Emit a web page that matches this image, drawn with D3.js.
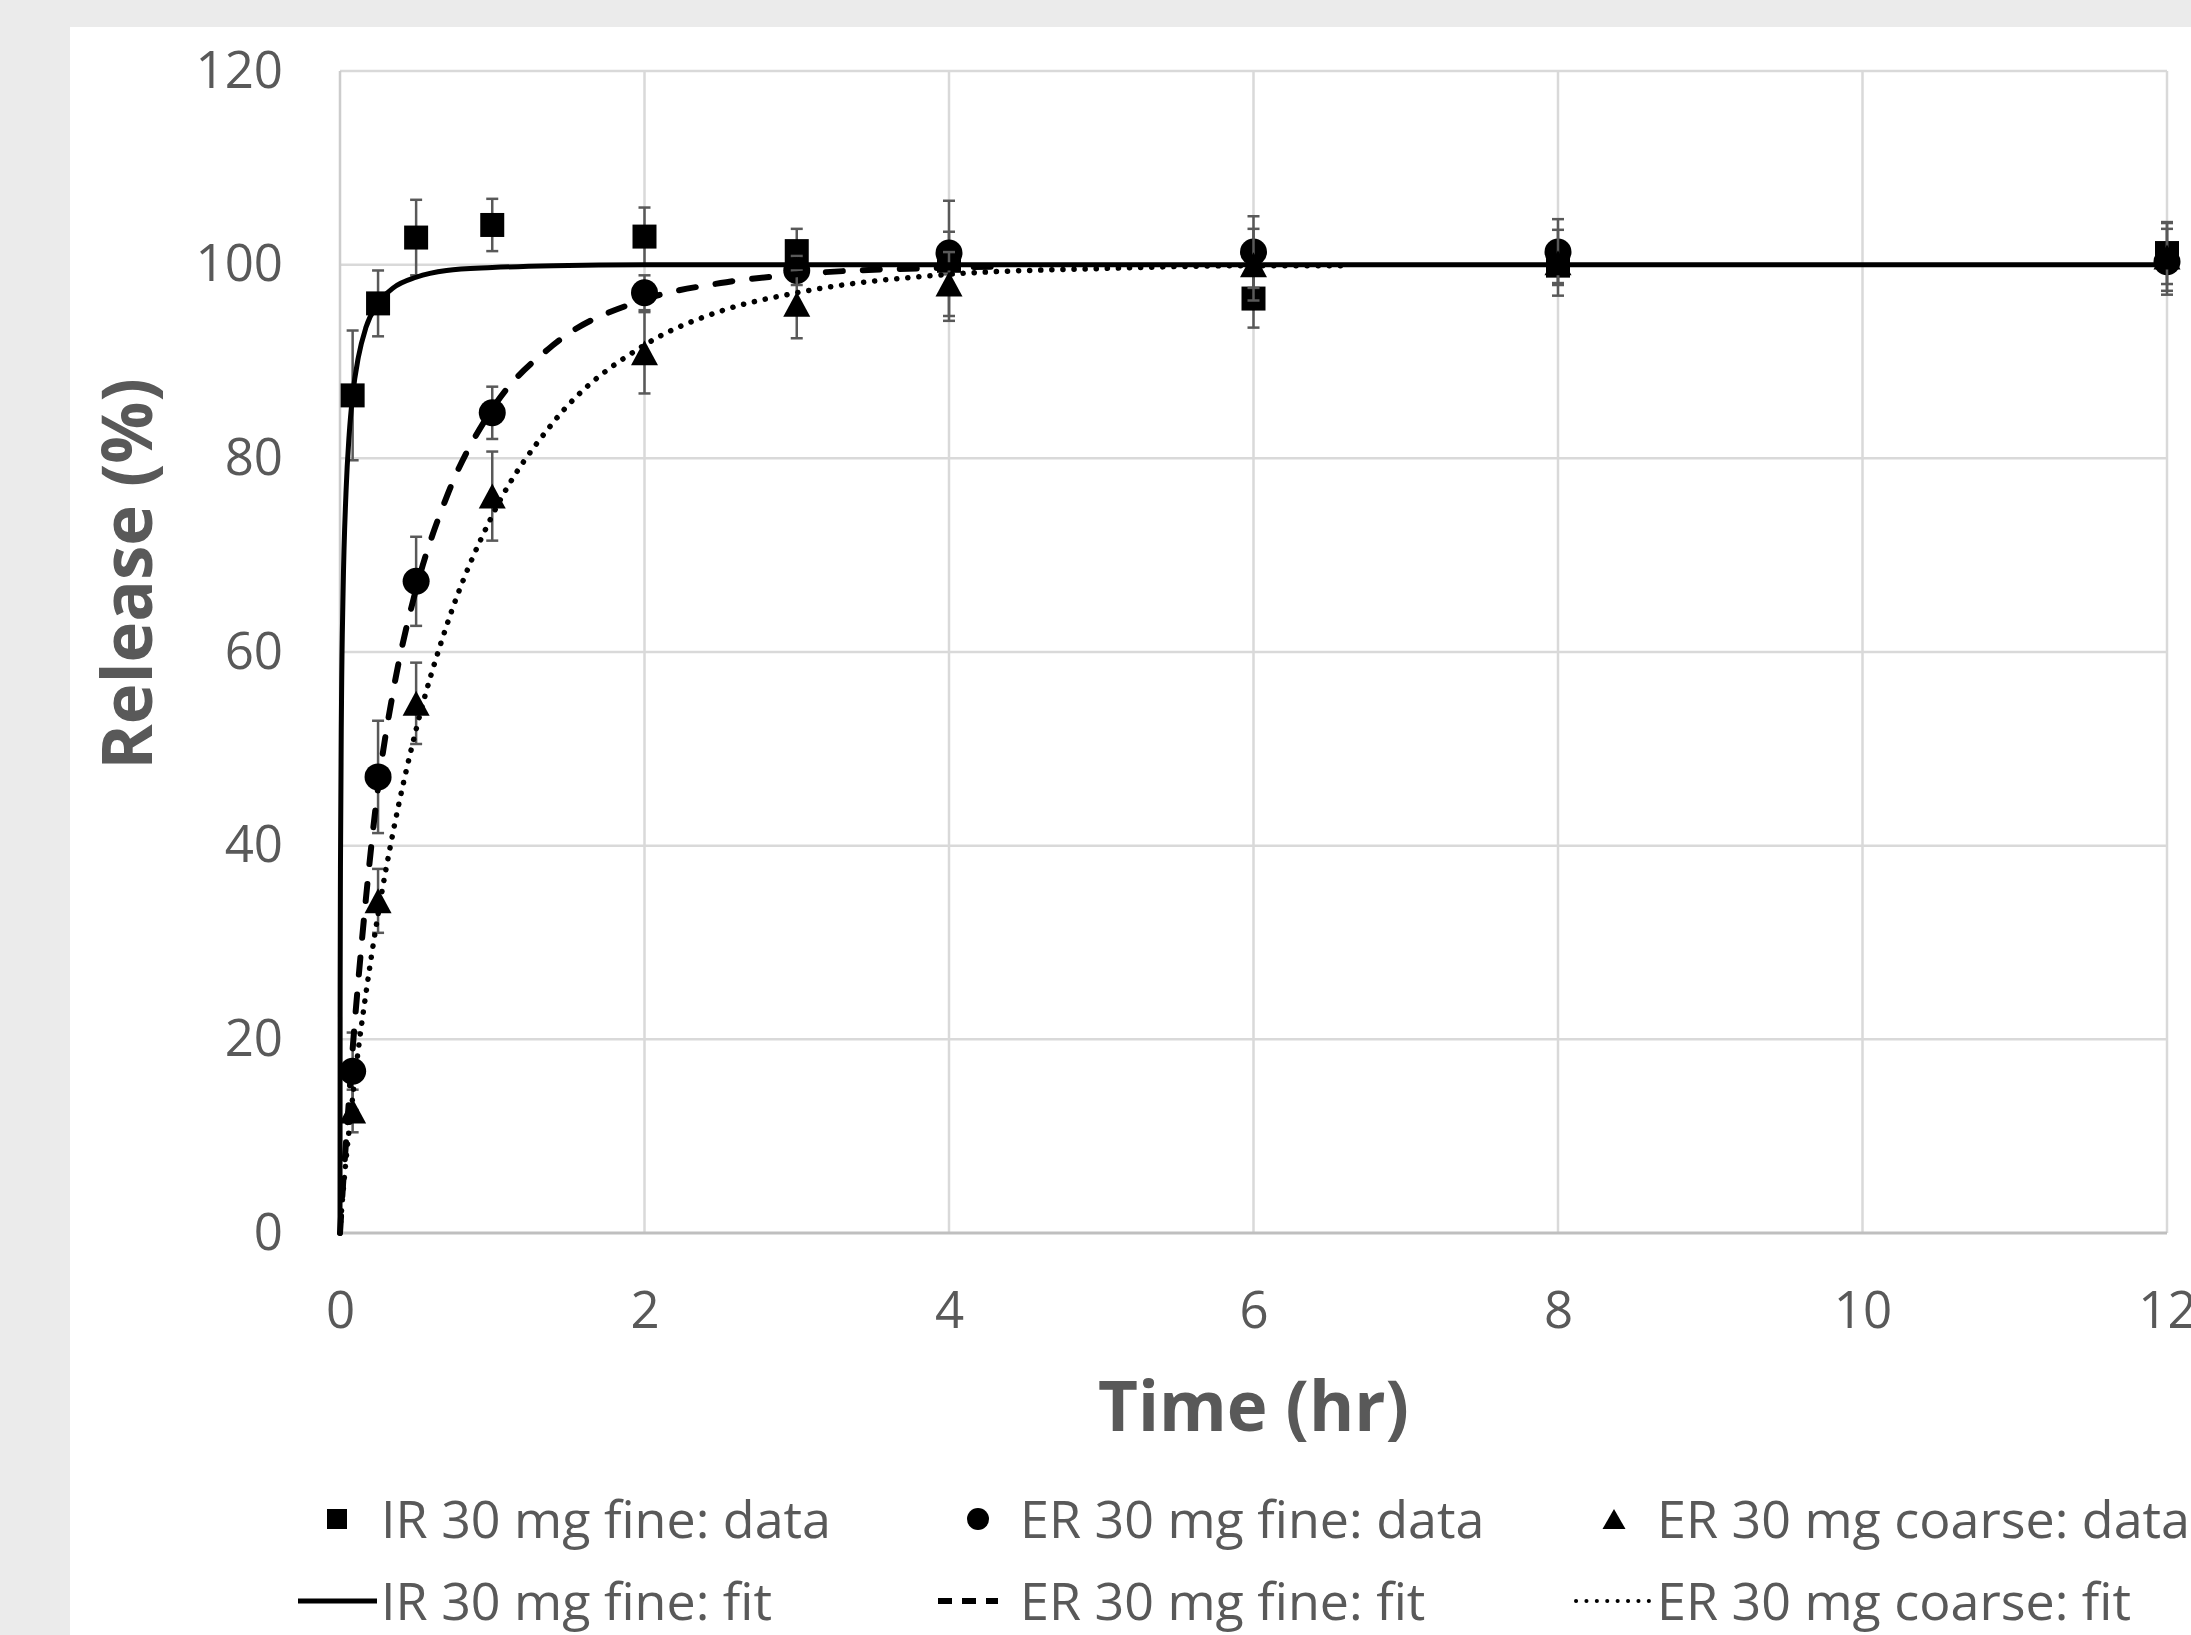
<!DOCTYPE html>
<html>
<head>
<meta charset="utf-8">
<script src="https://cdn.jsdelivr.net/npm/d3@7"></script>
<style>
  html, body { margin: 0; padding: 0; background: #ebebeb; }
  svg { display: block; }
  text { font-family: "Open Sans", "Noto Sans", sans-serif; fill: #595959; }
</style>
</head>
<body>
<svg id="chart" width="2191" height="1635"></svg>
<script>
// ---- Dissolution data (percent released vs. time in hours) ----
const sampleTimes = [0.083, 0.25, 0.5, 1, 2, 3, 4, 6, 8, 12];

const irFineData   = [86.5, 96.0, 102.8, 104.1, 102.9, 101.4, 100.4, 96.5, 99.9, 101.2];
const irFineErr    = [6.7, 3.4, 3.9, 2.7, 3.0, 2.3, 6.2, 3.0, 1.8, 3.2];

const erFineData   = [16.7, 47.1, 67.3, 84.7, 97.1, 99.4, 101.2, 101.3, 101.3, 100.3];
const erFineErr    = [4.0, 5.8, 4.6, 2.7, 1.8, 1.5, 2.2, 3.7, 3.4, 3.4];

const erCoarseData = [12.6, 34.3, 54.7, 76.1, 90.9, 95.9, 98.0, 100.0, 100.2, 100.8];
const erCoarseErr  = [2.2, 3.3, 4.2, 4.6, 4.2, 3.5, 3.3, 3.7, 3.4, 3.5];

// ---- Model fit curves ----
const irFitTimes = [0, 0.001, 0.003, 0.01, 0.02, 0.04, 0.06, 0.083, 0.12, 0.17, 0.25, 0.35, 0.5, 0.7, 1, 1.4, 2, 3, 4, 6, 8, 12];
const irFitVals  = [0, 25.5, 37.7, 55.0, 66.0, 76.7, 82.4, 86.5, 90.4, 93.5, 96.0, 97.6, 98.7, 99.4, 99.7, 99.9, 100, 100, 100, 100, 100, 100];

const erFineFitTimes = [0, 0.01, 0.02, 0.04, 0.06, 0.083, 0.12, 0.17, 0.25, 0.35, 0.5, 0.7, 1, 1.4, 2, 2.5, 3, 4, 4.3];
const erFineFitVals  = [0, 2.5, 5.0, 9.5, 14.0, 19.0, 26.0, 34.5, 46.0, 56.0, 66.5, 76.0, 85.1, 91.7, 96.4, 98.1, 99.0, 99.7, 99.8];

const erCoarseFitTimes = [0, 0.01, 0.02, 0.04, 0.06, 0.083, 0.12, 0.17, 0.25, 0.35, 0.5, 0.7, 1, 1.4, 2, 2.5, 3, 4, 5, 6, 6.6];
const erCoarseFitVals  = [0, 2.3, 4.2, 7.6, 10.7, 14.0, 18.9, 24.7, 32.9, 41.5, 52.0, 62.7, 74.1, 83.7, 91.7, 95.2, 97.1, 99.0, 99.6, 99.9, 99.9];

// ---- Axis ticks and labels ----
const xTicks = [0, 2, 4, 6, 8, 10, 12];
const yTicks = [0, 20, 40, 60, 80, 100, 120];
const xTitle = "Time (hr)";
const yTitle = "Release (%)";
const dataLabels = ["IR 30 mg fine: data", "ER 30 mg fine: data", "ER 30 mg coarse: data"];
const fitLabels  = ["IR 30 mg fine: fit", "ER 30 mg fine: fit", "ER 30 mg coarse: fit"];

// ---- Layout ----
const W = 2191, H = 1635;
const plot = { left: 340, right: 2167, top: 71, bottom: 1233 };
const svg = d3.select("#chart");

svg.append("rect").attr("width", W).attr("height", H).attr("fill", "#ebebeb");
svg.append("rect").attr("x", 70).attr("y", 27).attr("width", W - 70).attr("height", H - 27).attr("fill", "#ffffff");

const x = d3.scaleLinear().domain([0, 12]).range([plot.left, plot.right]);
const y = d3.scaleLinear().domain([0, 120]).range([plot.bottom, plot.top]);

// Gridlines
const grid = svg.append("g");
grid.selectAll("line.h").data(yTicks.filter(d => d > 0)).join("line")
  .attr("x1", plot.left).attr("x2", plot.right)
  .attr("y1", d => y(d)).attr("y2", d => y(d))
  .attr("stroke", "#d9d9d9").attr("stroke-width", 2.5);
grid.selectAll("line.v").data(xTicks.filter(d => d > 0)).join("line")
  .attr("x1", d => x(d)).attr("x2", d => x(d))
  .attr("y1", plot.top).attr("y2", plot.bottom)
  .attr("stroke", "#d9d9d9").attr("stroke-width", 2.5);

// Axis lines
svg.append("line").attr("x1", plot.left).attr("x2", plot.left)
  .attr("y1", plot.top).attr("y2", plot.bottom)
  .attr("stroke", "#cccccc").attr("stroke-width", 2.5);
svg.append("line").attr("x1", plot.left).attr("x2", plot.right)
  .attr("y1", plot.bottom).attr("y2", plot.bottom)
  .attr("stroke", "#bfbfbf").attr("stroke-width", 3);

// Tick labels via d3 axes (domain and tick marks hidden)
const yAxis = svg.append("g").attr("transform", `translate(${283},0)`)
  .call(d3.axisLeft(y).tickValues(yTicks).tickSize(0).tickPadding(0));
yAxis.select(".domain").remove();
yAxis.selectAll("text")
  .attr("font-size", 51).attr("font-family", "Open Sans, sans-serif")
  .attr("fill", "#595959").attr("dy", "16px").attr("text-anchor", "end");

const xAxis = svg.append("g").attr("transform", `translate(0,${1328})`)
  .call(d3.axisBottom(x).tickValues(xTicks).tickSize(0).tickPadding(0));
xAxis.select(".domain").remove();
xAxis.selectAll("text")
  .attr("font-size", 51).attr("font-family", "Open Sans, sans-serif")
  .attr("fill", "#595959").attr("dy", 0).attr("y", 0);

// Axis titles
svg.append("text").attr("x", (plot.left + plot.right) / 2).attr("y", 1431)
  .attr("text-anchor", "middle").attr("font-size", 69).attr("font-weight", 700)
  .text(xTitle);
svg.append("text").attr("transform", "translate(152,574) rotate(-90)")
  .attr("text-anchor", "middle").attr("font-size", 69).attr("font-weight", 700)
  .text(yTitle);

// ---- Marker shapes ----
const squarePath = d3.symbol().type(d3.symbolSquare).size(24 * 24)();
const circlePath = d3.symbol().type(d3.symbolCircle).size(Math.PI * 13.5 * 13.5)();
const trianglePath = (w, h) => `M0,${-h / 2}L${w / 2},${h / 2}L${-w / 2},${h / 2}Z`;

function drawSeries(values, errors, shape) {
  const pts = sampleTimes.map((t, i) => ({ t, v: values[i], e: errors[i] }));
  const g = svg.append("g");
  const eb = g.append("g").attr("stroke", "#595959").attr("stroke-width", 2.5);
  eb.selectAll("line.stem").data(pts).join("line")
    .attr("x1", d => x(d.t)).attr("x2", d => x(d.t))
    .attr("y1", d => y(d.v - d.e)).attr("y2", d => y(d.v + d.e));
  eb.selectAll("line.top").data(pts).join("line")
    .attr("x1", d => x(d.t) - 6).attr("x2", d => x(d.t) + 6)
    .attr("y1", d => y(d.v + d.e)).attr("y2", d => y(d.v + d.e));
  eb.selectAll("line.bot").data(pts).join("line")
    .attr("x1", d => x(d.t) - 6).attr("x2", d => x(d.t) + 6)
    .attr("y1", d => y(d.v - d.e)).attr("y2", d => y(d.v - d.e));
  g.selectAll("path").data(pts).join("path")
    .attr("d", shape)
    .attr("transform", d => `translate(${x(d.t)},${y(d.v)})`)
    .attr("fill", "#000");
}

drawSeries(irFineData, irFineErr, squarePath);
drawSeries(erFineData, erFineErr, circlePath);
drawSeries(erCoarseData, erCoarseErr, trianglePath(27, 25));

// ---- Fit curves ----
const line = d3.line().x(d => x(d[0])).y(d => y(d[1])).curve(d3.curveMonotoneX);
const zip = (a, b) => a.map((t, i) => [t, b[i]]);

svg.append("path").datum(zip(erCoarseFitTimes, erCoarseFitVals))
  .attr("d", line).attr("fill", "none").attr("stroke", "#000")
  .attr("stroke-width", 5.5).attr("stroke-linecap", "round").attr("stroke-dasharray", "0.1,11");
svg.append("path").datum(zip(erFineFitTimes, erFineFitVals))
  .attr("d", line).attr("fill", "none").attr("stroke", "#000")
  .attr("stroke-width", 6).attr("stroke-linecap", "round").attr("stroke-dasharray", "17,20");
svg.append("path").datum(zip(irFitTimes, irFitVals))
  .attr("d", line).attr("fill", "none").attr("stroke", "#000")
  .attr("stroke-width", 5);

// ---- Legend ----
const legend = svg.append("g");
const row1 = 1519, row2 = 1601;
const colMark = [337, 978, 1614];
const colText = [381, 1020, 1657];

legend.append("path").attr("d", d3.symbol().type(d3.symbolSquare).size(20 * 20)())
  .attr("transform", `translate(${colMark[0]},${row1})`).attr("fill", "#000");
legend.append("path").attr("d", d3.symbol().type(d3.symbolCircle).size(Math.PI * 11 * 11)())
  .attr("transform", `translate(${colMark[1]},${row1})`).attr("fill", "#000");
legend.append("path").attr("d", trianglePath(23, 20))
  .attr("transform", `translate(${colMark[2]},${row1})`).attr("fill", "#000");

legend.append("line").attr("x1", 298).attr("x2", 377).attr("y1", row2).attr("y2", row2)
  .attr("stroke", "#000").attr("stroke-width", 5);
legend.append("line").attr("x1", 938).attr("x2", 998).attr("y1", row2).attr("y2", row2)
  .attr("stroke", "#000").attr("stroke-width", 6).attr("stroke-dasharray", "14,10");
legend.append("line").attr("x1", 1576).attr("x2", 1649).attr("y1", row2).attr("y2", row2)
  .attr("stroke", "#000").attr("stroke-width", 4).attr("stroke-linecap", "round")
  .attr("stroke-dasharray", "0.1,10.3");

legend.selectAll("text.d").data(dataLabels).join("text")
  .attr("x", (d, i) => colText[i]).attr("y", row1 + 19)
  .attr("font-size", 52).text(d => d);
legend.selectAll("text.f").data(fitLabels).join("text")
  .attr("x", (d, i) => colText[i]).attr("y", row2 + 19)
  .attr("font-size", 52).text(d => d);
</script>
</body>
</html>
